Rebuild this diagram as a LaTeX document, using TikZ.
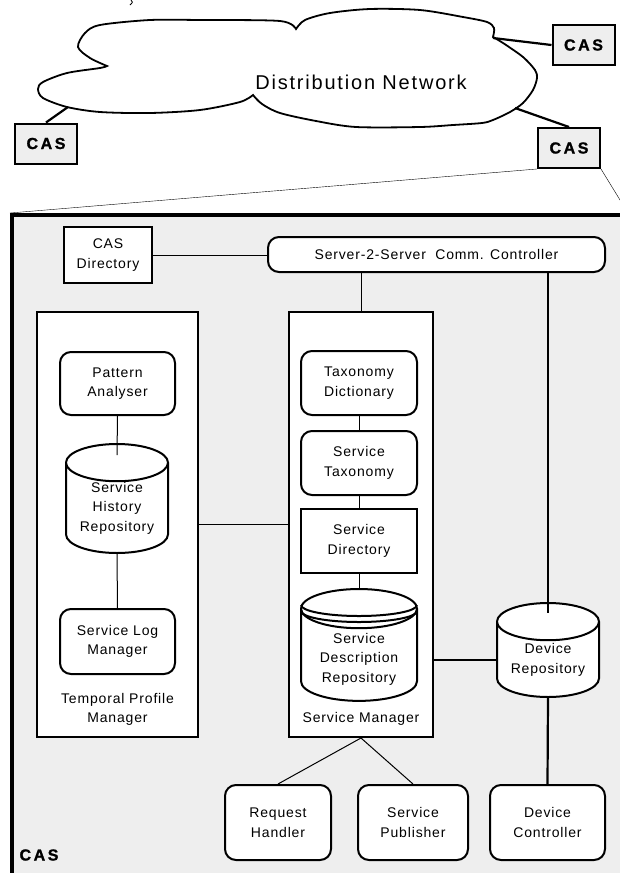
\documentclass[tikz,border=0pt]{standalone}
\usepackage{fontspec}
\setmainfont{Liberation Sans}[LetterSpace=6]
\newfontfamily\cloudfont{Liberation Sans}[LetterSpace=9]
\newfontfamily\casfont{Liberation Sans}[LetterSpace=16, FakeBold=1.2]
\usepackage{tikz}
\usetikzlibrary{shapes.geometric,positioning}
\definecolor{cas-grey}{HTML}{EEEEEE}
\tikzset{
    every node/.style = {font=\fontsize{14}{19.5}\selectfont, align=center, inner sep=0pt},
    cas-box/.style = {draw, fill=cas-grey, line width=2pt, minimum width=62pt, minimum height=40pt, font=\casfont\bfseries\fontsize{16}{18}\selectfont},
    cas-frame/.style = {draw, fill=cas-grey, line width=4pt, anchor=north west},
    holder-box/.style = {draw, fill=white, line width=2pt, anchor=north},
    plain-box/.style = {draw, fill=white, line width=2pt},
    round-box/.style = {plain-box, rounded corners=11pt},
    repo/.style = {draw, fill=white, line width=2pt, cylinder, shape border rotate=90, aspect=0.5, anchor=north},
    link/.style = {line width=1pt},
    heavy-link/.style = {line width=2.2pt},
}

\begin{document}
\begin{tikzpicture}[x=1pt, y=-1pt]
\clip (0,0) rectangle (620,873);
\node[cas-frame, minimum width=614pt, minimum height=663pt] (frame) at (10,213) {};

\draw[line width=1.8pt, fill=white] plot[smooth] coordinates {(107,66) (100,68) (67,73) (43,82) (38,89) (43,98) (67,107) (100,112) (150,113) (200,110) (240,102) (253,95)}
    -- plot[smooth] coordinates {(253,95) (262,104) (280,113) (316,121) (356,127) (420,127) (453,125) (482,123) (493,120) (510,112) (523,103) (533,90) (537,78) (535,70) (523,57) (503,43) (493,37)}
    -- plot[smooth] coordinates {(493,37) (494,28) (487,22) (463,17) (420,10) (370,9) (330,13) (305,20) (296,29)}
    -- plot[smooth] coordinates {(296,29) (280,21) (200,20) (150,20) (100,25) (85,33) (78,47) (90,58) (107,66)} -- cycle;
\draw[line width=0.8pt] (131,0) .. controls (133,2) .. (130,5);
\node[font=\cloudfont\fontsize{20}{24}\selectfont] (net) at (361,82) {Distribution Network};
\coordinate (net-l) at (68,107);
\coordinate (net-tr) at (493,38);
\coordinate (net-br) at (515,108);

\node[cas-box] (cas-l) at (46,143.5) {CAS};
\node[cas-box] (cas-tr) at (583.5,45) {CAS};
\node[cas-box] (cas-br) at (569,148) {CAS};
\draw[heavy-link] (net-l) -- (cas-l.north);
\draw[heavy-link] (net-tr) -- (cas-tr.west);
\draw[heavy-link] (net-br) -- (cas-br.north);
\draw[thin] (cas-br.south west) -- (frame.north west);
\draw[thin] (cas-br.south east) -- (frame.north east);

\node[plain-box, minimum width=88pt, minimum height=56pt] (cas-dir) at (108,255) {CAS\\Directory};
\node[round-box, minimum width=337pt, minimum height=35pt] (s2s) at (436.5,254.5) {Server-2-Server\ \ Comm. Controller};
\node[holder-box, minimum width=161pt, minimum height=425pt] (tpm) at (117.5,311) {};
\node[holder-box, minimum width=144pt, minimum height=425pt] (sm) at (361,311) {};
\node[above=12pt of tpm.south] (tpm-title) {Temporal Profile\\Manager};
\node[above=12pt of sm.south] (sm-title) {Service Manager};

\node[round-box, minimum width=115pt, minimum height=63pt] (pattern) at (117.5,383.5) {Pattern\\Analyser};
\node[repo, minimum width=102pt, minimum height=109pt] (history) at (117,443) {Service\\History\\Repository};
\node[round-box, minimum width=115pt, minimum height=65pt] (log) at (117.5,641.5) {Service Log\\Manager};

\node[round-box, minimum width=116pt, minimum height=64pt] (tax-dict) at (359,383) {Taxonomy\\Dictionary};
\node[round-box, minimum width=116pt, minimum height=64pt] (serv-tax) at (359,463) {Service\\Taxonomy};
\node[plain-box, minimum width=116pt, minimum height=64pt] (serv-dir) at (359,541) {Service\\Directory};
\node[repo, minimum width=116pt, minimum height=109pt] (desc-repo) at (359,588) {\phantom{Service}\\\phantom{Description}\\\phantom{Repository}};
\foreach \d in {17,23}
    \draw[line width=2pt] ([xshift=-58pt, yshift=-\d pt]desc-repo.north) arc[start angle=180, end angle=360, x radius=58pt, y radius=11pt];
\node (desc-repo-text) at (359,659) {Service\\Description\\Repository};
\node[repo, minimum width=102pt, minimum height=94pt] (dev-repo) at (548,602) {Device\\Repository};

\node[round-box, minimum width=106pt, minimum height=75pt] (req) at (278,822.5) {Request\\Handler};
\node[round-box, minimum width=110pt, minimum height=75pt] (publisher) at (413,822.5) {Service\\Publisher};
\node[round-box, minimum width=115pt, minimum height=75pt] (dev-ctl) at (547.5,822.5) {Device\\Controller};
\node[font=\casfont\bfseries\fontsize{16}{18}\selectfont] (frame-title) at (39,855) {CAS};

\draw[link] (cas-dir.east) -- (cas-dir.east -| s2s.west);
\draw[link] (sm.north) -- (sm.north |- s2s.south);
\draw[heavy-link] (dev-repo.north |- s2s.south) -- ([yshift=-11pt]dev-repo.north);
\draw[link] (pattern.south) -- ([yshift=-12pt]history.north);
\draw[link] (history.south) -- (log.north);
\draw[link] (tpm.east) -- (sm.west);
\draw[link] (tax-dict) -- (serv-tax);
\draw[link] (serv-tax) -- (serv-dir);
\draw[link] (serv-dir.south) -- (desc-repo.north);
\draw[heavy-link] (dev-repo.west -| sm.east) -- (dev-repo.west);
\draw[link] (sm.south) -- (req.north);
\draw[link] (sm.south) -- (publisher.north);
\draw[heavy-link] (dev-repo.south) -- (dev-ctl.north);
\end{tikzpicture}
\end{document}
